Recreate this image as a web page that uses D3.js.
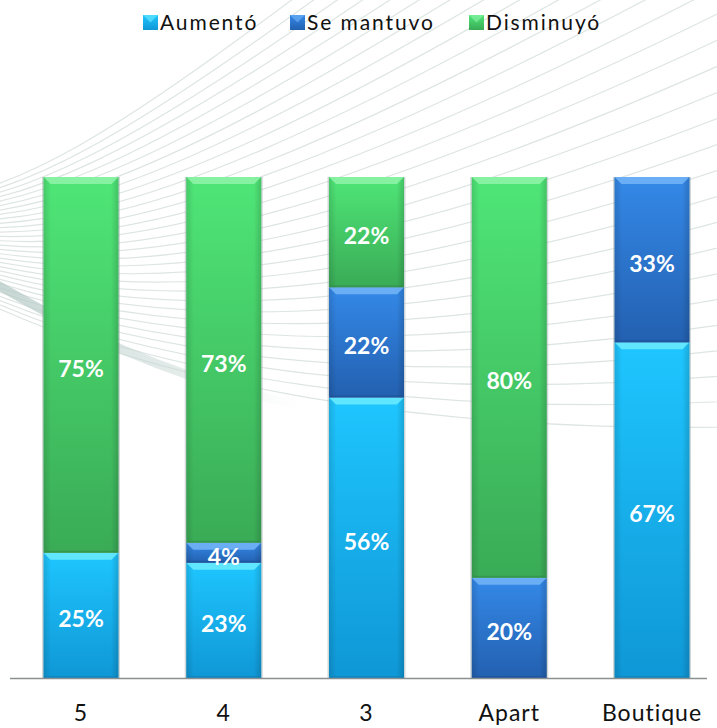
<!DOCTYPE html>
<html>
<head>
<meta charset="utf-8">
<script src="https://cdn.jsdelivr.net/npm/d3@7"></script>
<style>
  html, body { margin: 0; padding: 0; background: #fff; }
  svg { display: block; }
</style>
</head>
<body>
<div id="chart"></div>
<script>
// ---- data ----
const categories = ["5", "4", "3", "Apart", "Boutique"];
const seriesNames = ["Aumentó", "Se mantuvo", "Disminuyó"];
const aumento    = [25, 23, 56, 0, 67];
const semantuvo  = [0, 4, 22, 20, 33];
const disminuyo  = [75, 73, 22, 80, 0];

const W = 717, H = 728;
const svg = d3.select("#chart").append("svg").attr("width", W).attr("height", H);
const defs = svg.append("defs");

// colours per series: [top, bottom, bevel highlight, bevel dark]
const palette = {
  "Aumentó":    ["#1fc6ff", "#0f97d6", "#6cecff", "#0b7fb8"],
  "Se mantuvo": ["#3489e8", "#2360b0", "#74b5f7", "#1d4f94"],
  "Disminuyó":  ["#4fe677", "#3aab56", "#8ff3a9", "#2f8c47"]
};
seriesNames.forEach((s, i) => {
  const g = defs.append("linearGradient").attr("id", "g" + i)
    .attr("x1", 0).attr("y1", 0).attr("x2", 0).attr("y2", 1);
  g.append("stop").attr("offset", "0%").attr("stop-color", palette[s][0]);
  g.append("stop").attr("offset", "100%").attr("stop-color", palette[s][1]);
  const h = defs.append("linearGradient").attr("id", "h" + i)
    .attr("x1", 0).attr("y1", 0).attr("x2", 1).attr("y2", 0);
  h.append("stop").attr("offset", "0%").attr("stop-color", "#000").attr("stop-opacity", 0.12);
  h.append("stop").attr("offset", "10%").attr("stop-color", "#000").attr("stop-opacity", 0);
  h.append("stop").attr("offset", "90%").attr("stop-color", "#000").attr("stop-opacity", 0);
  h.append("stop").attr("offset", "100%").attr("stop-color", "#000").attr("stop-opacity", 0.15);
});
const sw = defs.append("linearGradient").attr("id", "swoosh")
  .attr("gradientUnits", "userSpaceOnUse").attr("x1", 0).attr("y1", 0).attr("x2", 300).attr("y2", 0);
sw.append("stop").attr("offset", "0%").attr("stop-color", "#b9cdc8").attr("stop-opacity", 0.8);
sw.append("stop").attr("offset", "60%").attr("stop-color", "#c9d9d5").attr("stop-opacity", 0.5);
sw.append("stop").attr("offset", "100%").attr("stop-color", "#dfe8e5").attr("stop-opacity", 0);

// ---- decorative background curves ----
const bg = svg.append("g");
const nLines = 30;
for (let i = 0; i < nLines; i++) {
  const t = i / (nLines - 1);
  const p = d3.path();
  p.moveTo(-20, 300 - 110 * t);
  p.bezierCurveTo(150 - 40 * t, 380 - 230 * t, 420 - 150 * t, 440 - 420 * t, 800, 425 - 820 * t);
  bg.append("path").attr("d", p.toString())
    .attr("fill", "none").attr("stroke", "#dde5e3").attr("stroke-width", 1.2);
}
// swoosh band
{
  const p = d3.path();
  p.moveTo(-20, 275);
  p.bezierCurveTo(60, 320, 150, 375, 300, 405);
  bg.append("path").attr("d", p.toString()).attr("fill", "none")
    .attr("stroke", "url(#swoosh)").attr("stroke-width", 9);
}

// ---- scales ----
const x = d3.scalePoint().domain(categories).range([81, 652]);
const y = d3.scaleLinear().domain([0, 100]).range([678, 177]);
const bw = 75;

const rows = categories.map((c, i) => ({ cat: c, "Aumentó": aumento[i], "Se mantuvo": semantuvo[i], "Disminuyó": disminuyo[i] }));
const stacked = d3.stack().keys(seriesNames)(rows);

const bars = svg.append("g");
stacked.forEach((layer, si) => {
  const s = seriesNames[si];
  layer.forEach(d => {
    const v = d[1] - d[0];
    if (v <= 0) return;
    const x0 = x(d.data.cat) - bw / 2;
    const yTop = y(d[1]), yBot = y(d[0]);
    const h = yBot - yTop;
    const g = bars.append("g");
    g.append("rect").attr("x", x0 - 1.5).attr("y", yTop).attr("width", bw + 3).attr("height", h)
      .attr("fill", "#9aa3a6").attr("opacity", 0.45);
    g.append("rect").attr("x", x0).attr("y", yTop).attr("width", bw).attr("height", h)
      .attr("fill", `url(#g${si})`);
    g.append("rect").attr("x", x0).attr("y", yTop).attr("width", bw).attr("height", h)
      .attr("fill", `url(#h${si})`);
    const b = Math.min(7, h / 2.5);
    g.append("polygon")
      .attr("points", [[x0, yTop], [x0 + bw, yTop], [x0 + bw - b, yTop + b], [x0 + b, yTop + b]].map(p => p.join(",")).join(" "))
      .attr("fill", palette[s][2]).attr("opacity", 0.85);
    g.append("polygon")
      .attr("points", [[x0, yBot], [x0 + bw, yBot], [x0 + bw - 2, yBot - 2], [x0 + 2, yBot - 2]].map(p => p.join(",")).join(" "))
      .attr("fill", palette[s][3]).attr("opacity", 0.6);
  });
});

// value labels
const labels = svg.append("g").attr("font-family", "Lato, 'Open Sans', sans-serif")
  .attr("font-weight", "bold").attr("font-size", 23).attr("fill", "#fff").attr("text-anchor", "middle");
stacked.forEach(layer => {
  layer.forEach(d => {
    const v = d[1] - d[0];
    if (v <= 0) return;
    labels.append("text").attr("x", x(d.data.cat))
      .attr("y", (y(d[0]) + y(d[1])) / 2 + 4)
      .attr("dy", "0.35em").text(v + "%");
  });
});

// axis baseline
svg.append("line").attr("x1", 10).attr("x2", 707).attr("y1", 678.5).attr("y2", 678.5)
  .attr("stroke", "#8a8f91").attr("stroke-width", 1.5);

// category labels
svg.append("g").selectAll("text").data(categories).join("text")
  .attr("x", d => x(d)).attr("y", 721).attr("text-anchor", "middle")
  .attr("font-family", "Lato, 'Open Sans', sans-serif").attr("font-size", 23)
  .attr("letter-spacing", 1).attr("fill", "#111").text(d => d);

// legend
const legendX = [143, 290, 469];
const lg = svg.append("g").attr("font-family", "Lato, 'Open Sans', sans-serif").attr("font-size", 21);
seriesNames.forEach((s, i) => {
  const gx = legendX[i];
  lg.append("rect").attr("x", gx).attr("y", 15).attr("width", 15).attr("height", 15).attr("fill", `url(#g${i})`);
  lg.append("polygon").attr("points", `${gx},15 ${gx + 15},15 ${gx + 7.5},22.5`).attr("fill", palette[s][2]).attr("opacity", 0.6);
  lg.append("text").attr("x", gx + 17).attr("y", 30).attr("letter-spacing", 1.9).attr("fill", "#111").text(s);
});
</script>
</body>
</html>
